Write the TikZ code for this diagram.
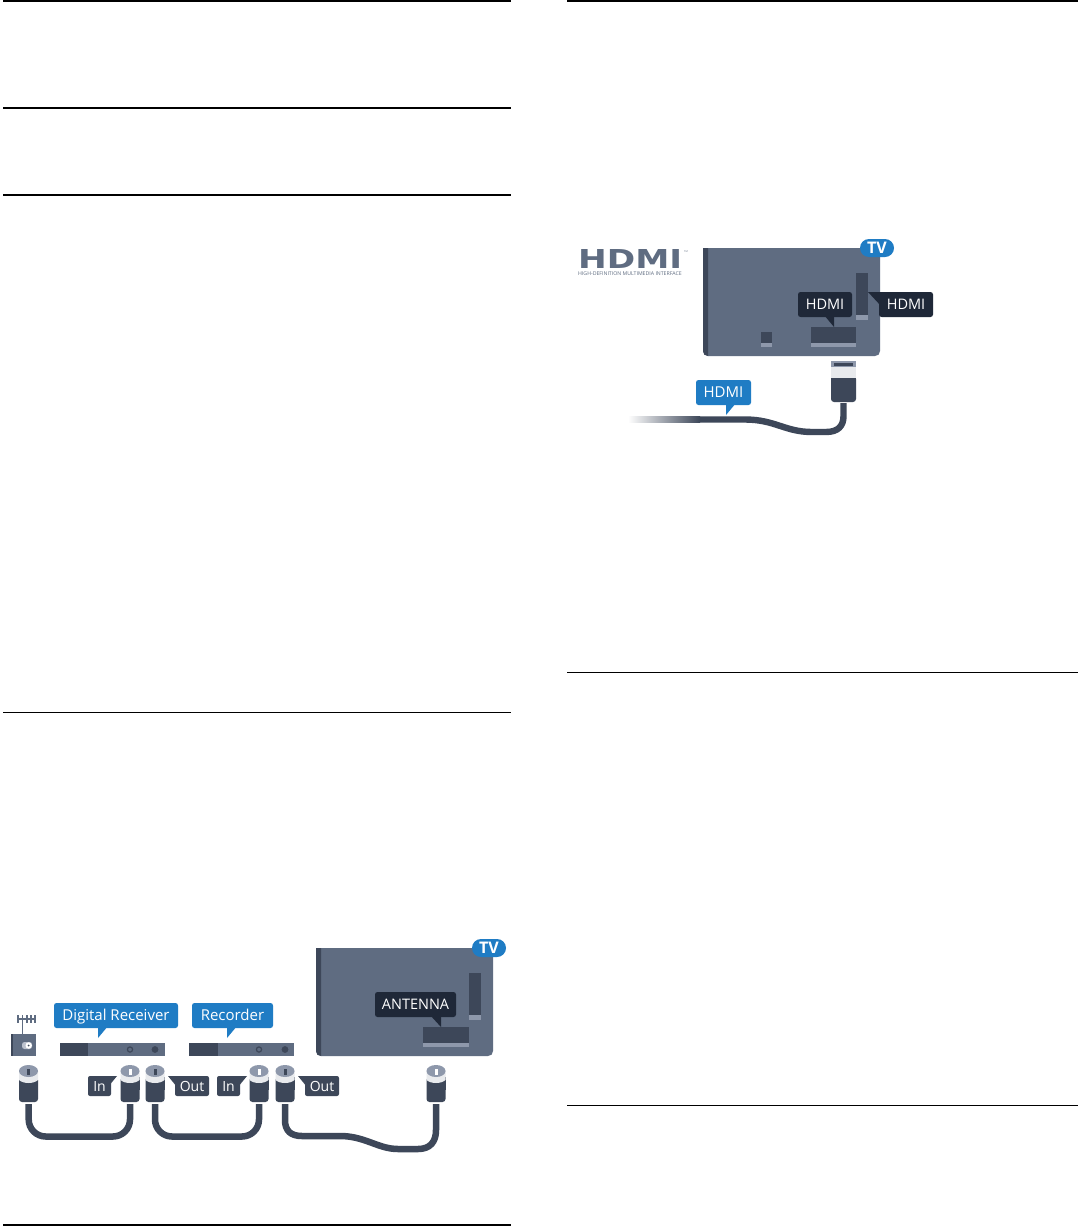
\documentclass[tikz,border=0pt]{standalone}
\usepackage{fontspec}
\setmainfont{Open Sans}
\newfontfamily\logofont{DejaVu Sans}
\definecolor{bblue}{HTML}{1F7CC4}
\definecolor{ddark}{HTML}{3D4759}
\definecolor{mmid}{HTML}{5F6C81}
\definecolor{llight}{HTML}{8E98AB}
\definecolor{wband}{HTML}{E8EAED}
\definecolor{lbl}{HTML}{1F2838}
\tikzset{
  rulethick/.style={line width=1.4pt,black},
  rulethin/.style={line width=0.9pt,black},
  capbox/.style={inner sep=0pt,text depth=0pt,text=white},
  bluebub/.style={capbox,text height=10.7pt,fill=bblue,rounded corners=2.5pt,font=\fontsize{15}{15}\selectfont},
  blackbub/.style={capbox,text height=10.4pt,fill=lbl,rounded corners=2.5pt,font=\fontsize{14.5}{15}\selectfont},
  graybub/.style={capbox,text height=10pt,fill=ddark,rounded corners=2pt,font=\fontsize{14}{15}\selectfont},
  tvpill/.style={capbox,text height=11.4pt,fill=bblue,rounded corners=9pt,font=\bfseries\fontsize{16}{16}\selectfont},
  cable/.style={draw=ddark,line width=6.5pt,line cap=butt},
  plug/.pic={
    \fill[ddark,rounded corners=3pt] (-9.5,12) rectangle (9.5,37);
    \fill[ddark] (-9.5,12) rectangle (9.5,25);
    \fill[wband] (-9.5,6) -- (-9.5,15) .. controls (-5,19) and (5,19) .. (9.5,15) -- (9.5,6) -- cycle;
    \fill[llight] (0,6) ellipse [x radius=9.5pt,y radius=6pt];
    \fill[pic actions] (-1.5,3.5) rectangle (1.5,10);
  }
}
\begin{document}
\begin{tikzpicture}[x=1pt,y=-1pt]
\useasboundingbox (0,0) rectangle (1078,1226);
\fill[white] (0,0) rectangle (1078,1226);
% rules
\draw[rulethick] (3,1) -- (511,1);
\draw[rulethick] (3,108) -- (511,108);
\draw[rulethick] (3,195) -- (511,195);
\draw[rulethin] (3,712) -- (511,712);
\draw[rulethick] (3,1225) -- (511,1225);
\draw[rulethick] (567,1) -- (1078,1);
\draw[rulethin] (567,672) -- (1078,672);
\draw[rulethin] (567,1105) -- (1078,1105);

% ===== antenna figure =====
% wall socket
\draw[mmid,line width=0.9pt] (22.7,1034) -- (22.7,1015);
\draw[mmid,line width=1.3pt] (17,1019) -- (36,1019);
\foreach \x in {18,22.5,27,31,35} \draw[mmid,line width=1.1pt] (\x,1015) -- (\x,1023);
\fill[mmid] (11,1034) rectangle (36,1056);
\fill[ddark] (11,1034) rectangle (13,1056);
\fill[llight!60!white,rounded corners=2.5pt] (22,1042) rectangle (32,1049);
\fill[white] (28.7,1045.5) circle (3.2pt);
\fill[ddark] (28.7,1045.5) circle (1pt);

% receiver and recorder bars
\fill[mmid] (60,1043) rectangle (165,1056);
\fill[ddark] (60,1043) rectangle (88,1056);
\draw[ddark,line width=1.2pt] (130,1049.5) circle (2.6pt);
\fill[ddark] (155,1049.5) circle (3.4pt);
\fill[mmid] (189,1043) rectangle (294,1056);
\fill[ddark] (189,1043) rectangle (218,1056);
\draw[ddark,line width=1.2pt] (259,1049.5) circle (2.6pt);
\fill[ddark] (285,1049.5) circle (3.4pt);

% callouts
\fill[bblue] (98,1026) -- (98,1038) -- (108,1026) -- cycle;
\node[bluebub,minimum width=124pt,minimum height=25pt] (dr) at (116,1015.5) {Digital Receiver};
\fill[bblue] (227,1026) -- (227,1038) -- (237,1026) -- cycle;
\node[bluebub,minimum width=81pt,minimum height=25pt] (rec) at (232.5,1015.5) {Recorder};

% TV
\fill[mmid] (316,948) -- (316,1051) .. controls (316,1054) and (318,1056) .. (321,1056) -- (488,1056) .. controls (491,1056) and (493,1054) .. (493,1051) -- (493,948) -- cycle;
\fill[ddark] (316,948) -- (316,1051) .. controls (316,1054) and (318,1056) .. (321,1056) -- (321,948) -- cycle;
\fill[ddark] (469,973) rectangle (481,1015);
\fill[llight] (469,1015) rectangle (481,1020);
\fill[ddark] (423,1027) rectangle (469,1043);
\fill[llight] (423,1043) rectangle (469,1047);
\fill[lbl] (430,1015) -- (441,1027) -- (441,1015) -- cycle;
\node[blackbub,minimum width=81pt,minimum height=25pt] (ant) at (415.5,1004.5) {ANTENNA};
\node[tvpill,minimum width=34pt,minimum height=18pt] (tv1) at (489,948) {TV};

% plugs
\pic[fill=ddark] at (28.5,1065) {plug};
\pic[fill=white] at (130,1065) {plug};
\pic[fill=ddark] at (155,1065) {plug};
\pic[fill=white] at (259,1065) {plug};
\pic[fill=ddark] at (285,1065) {plug};
\pic[fill=white] at (436,1065) {plug};

% plug labels
\fill[ddark] (105,1076) -- (117,1076) -- (108,1087) -- cycle;
\node[graybub,minimum width=23pt,minimum height=20pt] (in1) at (99.5,1086) {In};
\fill[ddark] (168,1076) -- (180,1076) -- (177,1087) -- cycle;
\node[graybub,minimum width=34pt,minimum height=20pt] (out1) at (192,1086) {Out};
\fill[ddark] (235,1076) -- (247,1076) -- (238,1087) -- cycle;
\node[graybub,minimum width=23pt,minimum height=20pt] (in2) at (228.5,1086) {In};
\fill[ddark] (298,1076) -- (310,1076) -- (307,1087) -- cycle;
\node[graybub,minimum width=34pt,minimum height=20pt] (out2) at (322,1086) {Out};

% cables
\coordinate (c1a) at (28.7,1104);
\coordinate (c1b) at (130,1104);
\coordinate (c2a) at (155,1104);
\coordinate (c2b) at (259,1104);
\coordinate (c3a) at (285,1104);
\coordinate (c3b) at (436,1104);
\draw[cable,rounded corners=17pt] (c1a) -- (28.7,1136.5) -- (130,1136.5) -- (c1b);
\draw[cable,rounded corners=17pt] (c2a) -- (155,1136.5) -- (259,1136.5) -- (c2b);
\draw[cable] (c3a) -- (285,1120) .. controls (285,1131) and (291,1136) .. (302,1136)
  -- (340,1136) .. controls (365,1136) and (378,1149) .. (398,1149)
  -- (418,1149) .. controls (430,1149) and (436,1142) .. (436,1130) -- (c3b);

% ===== HDMI figure =====
\node[inner sep=0pt,text=mmid,anchor=north west] (logo) at (578,249)
  {\resizebox{104pt}{19pt}{\logofont\bfseries HDMI}};
\node[inner sep=0pt,text=mmid,font=\fontsize{2.5}{3}\selectfont,anchor=south west] (tm) at (684,253) {TM};
\node[inner sep=0pt,text=mmid,anchor=north west,font=\fontsize{5.2}{5.5}\selectfont,text height=3.7pt,text depth=0pt] (logosub) at (578,271.2)
  {HIGH-DEFINITION MULTIMEDIA INTERFACE};

\fill[mmid] (703,248) -- (703,351) .. controls (703,354) and (705,356) .. (708,356) -- (875,356) .. controls (878,356) and (880,354) .. (880,351) -- (880,248) -- cycle;
\fill[ddark] (703,248) -- (703,351) .. controls (703,354) and (705,356) .. (708,356) -- (708,248) -- cycle;
\fill[ddark] (856,273) rectangle (868,315);
\fill[llight] (856,315) rectangle (868,320);
\fill[ddark] (811,327) rectangle (856,343);
\fill[llight] (811,343) rectangle (856,347);
\fill[ddark] (761,332) rectangle (772,343);
\fill[llight] (761,343) rectangle (772,347);
\fill[lbl] (824,315) -- (834,327) -- (834,315) -- cycle;
\node[blackbub,minimum width=54pt,minimum height=25pt] (h1) at (825,304.5) {HDMI};
\fill[lbl] (868,292) -- (881,292) -- (881,306) -- cycle;
\node[blackbub,minimum width=54pt,minimum height=25pt] (h2) at (906,304.5) {HDMI};
\node[tvpill,minimum width=34pt,minimum height=18pt] (tv2) at (877,248) {TV};

% HDMI plug
\fill[ddark,rounded corners=3pt] (831,376) rectangle (856,402);
\fill[ddark] (831,376) rectangle (856,390);
\fill[wband] (831,367) rectangle (856,378);
\fill[llight] (831,361) rectangle (856,367);
\fill[ddark] (834,363) rectangle (853,366);
\coordinate (hp) at (843.5,403);
\coordinate (hc) at (700,419.5);
\coordinate (hf) at (628,419.5);

% HDMI cable
\shade[left color=white,right color=ddark] (hf) ++(0,-3.2) rectangle (700,422.7);
\draw[cable,line width=6.4pt] (hc) -- (745,419.5) .. controls (775,419.5) and (785,432) .. (812,432)
  -- (826,432) .. controls (838,432) and (843.5,426) .. (843.5,416) -- (hp);
\fill[bblue] (726,403) -- (726,415) -- (736,403) -- cycle;
\node[bluebub,minimum width=55pt,minimum height=25pt] (h3) at (723.5,392.5) {HDMI};
\end{tikzpicture}
\end{document}
